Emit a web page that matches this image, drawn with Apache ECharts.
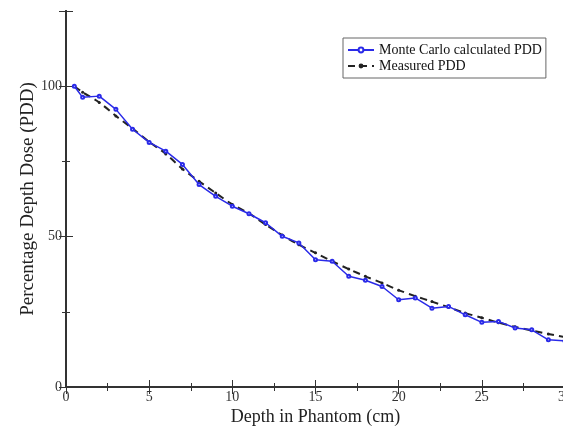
<!DOCTYPE html>
<html>
<head>
<meta charset="utf-8">
<script src="https://cdn.jsdelivr.net/npm/echarts@6/dist/echarts.min.js"></script>
<style>html,body{margin:0;padding:0;background:#fff}#c{width:563px;height:429px}</style>
</head>
<body>
<div id="c"></div>
<script>
var depthMC = [0.5,1,2,3,4,5,6,7,8,9,10,11,12,13,14,15,16,17,18,19,20,21,22,23,24,25,26,27,28,29,30];
var pddMC = [100,96.3,96.7,92.3,85.7,81.3,78.4,74,67.3,63.4,60.1,57.6,54.6,50.1,47.9,42.3,41.8,36.8,35.5,33.4,29,29.6,26.2,26.8,24,21.5,21.8,19.6,19,15.7,15.3];
var depthMeas = [0.5,1,2,3,4,5,6,7,8,9,10,11,12,13,14,15,16,17,18,19,20,21,22,23,24,25,26,27,28,29,30];
var pddMeas = [100,98,94.6,90.1,85.9,81.5,77.5,72.5,68.4,64.5,60.7,57.7,54,50.5,47.3,44.6,41.8,39.2,36.8,34.6,32.2,30.2,28.4,26.5,24.6,23,21.4,20,18.8,17.6,16.6];
var seriesNames = ['Monte Carlo calculated PDD','Measured PDD'];
var xTitle = 'Depth in Phantom (cm)';
var yTitle = 'Percentage Depth Dose (PDD)';

function pairs(xs, ys){ return xs.map(function(x,i){return [x, ys[i]];}); }

var font = 'Liberation Serif';
var axisLineStyle = {color:'#333', width:2};
var chart = echarts.init(document.getElementById('c'));
function tick(){ return {show:true, inside:true, length:7, lineStyle:{color:'#333', width:1}}; }
function minor(){ return {show:true, splitNumber:2, length:4, lineStyle:{color:'#333', width:1}}; }
var baseX = {
  type:'value', min:0, max:30, interval:5,
  axisLine:{show:true, lineStyle:axisLineStyle},
  splitLine:{show:false}
};
var baseY = {
  type:'value', min:0, max:125, interval:50,
  axisLine:{show:true, lineStyle:axisLineStyle},
  splitLine:{show:false}
};
chart.setOption({
  animation:false,
  backgroundColor:'#fff',
  grid:{left:66, right:-2, top:11, bottom:42, outerBoundsMode:'none', containLabel:false},
  legend:{
    orient:'vertical', left:343, top:38,
    padding:[5,4,5,4], itemGap:2, itemWidth:26, itemHeight:6,
    borderColor:'#666', borderWidth:1, backgroundColor:'#fff',
    textStyle:{fontFamily:font, fontSize:14, color:'#111'},
    data:seriesNames
  },
  xAxis:[
    Object.assign({}, baseX, {
      position:'bottom',
      axisTick:tick(), minorTick:minor(),
      name:xTitle, nameLocation:'middle', nameGap:21, nameMoveOverlap:false,
      nameTextStyle:{fontFamily:font, fontSize:18, color:'#222', verticalAlign:'top'},
      axisLabel:{fontFamily:font, fontSize:14, color:'#333', margin:3}
    }),
    Object.assign({}, baseX, {position:'top', axisTick:tick(), minorTick:minor(), axisLabel:{show:false}})
  ],
  yAxis:[
    Object.assign({}, baseY, {
      position:'left',
      axisTick:tick(), minorTick:minor(),
      name:yTitle, nameLocation:'middle', nameGap:28, nameMoveOverlap:false,
      nameTextStyle:{fontFamily:font, fontSize:19, color:'#222'},
      axisLabel:{fontFamily:font, fontSize:14, color:'#333', margin:4, showMaxLabel:false}
    }),
    Object.assign({}, baseY, {position:'right', axisTick:tick(), minorTick:minor(), axisLabel:{show:false}})
  ],
  series:[
    {
      name:seriesNames[0], type:'line', data:pairs(depthMC, pddMC),
      symbol:'emptyCircle', symbolSize:3, showAllSymbol:true,
      lineStyle:{color:'#2a2ae8', width:1.5},
      itemStyle:{color:'#2a2ae8', borderWidth:1},
      z:3
    },
    {
      name:seriesNames[1], type:'line', data:pairs(depthMeas, pddMeas), smooth:0.3,
      symbol:'circle', symbolSize:3, showAllSymbol:true,
      lineStyle:{color:'#222', width:2, type:[7,5]},
      itemStyle:{color:'#222'},
      z:2
    }
  ]
});
</script>
</body>
</html>
